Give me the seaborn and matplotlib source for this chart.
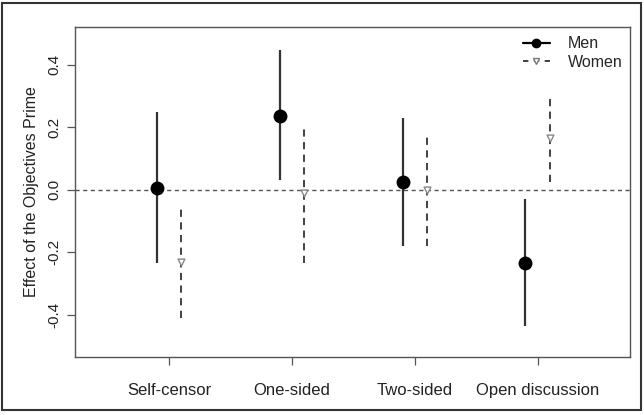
import matplotlib
matplotlib.use("Agg")
import matplotlib.pyplot as plt
from matplotlib.lines import Line2D
from matplotlib.patches import Rectangle
import seaborn as sns
import pandas as pd
import numpy as np

categories = ["Self-censor", "One-sided", "Two-sided", "Open discussion"]
men_est = [0.005, 0.235, 0.025, -0.235]
men_lo = [-0.235, 0.03, -0.18, -0.435]
men_hi = [0.25, 0.445, 0.23, -0.03]
women_est = [-0.23, -0.01, 0.0, 0.165]
women_lo = [-0.41, -0.235, -0.18, 0.025]
women_hi = [-0.055, 0.205, 0.18, 0.305]
y_ticks = [-0.4, -0.2, 0.0, 0.2, 0.4]

sns.set_theme(style="white")
plt.rcParams["font.family"] = ["Liberation Sans", "DejaVu Sans"]

fig = plt.figure(figsize=(6.44, 4.15), dpi=100)
ax = fig.add_axes([75 / 644, 1 - 357 / 415, (630 - 75) / 644, (357 - 27) / 415])

pos = np.arange(1, len(categories) + 1)
df = pd.DataFrame({
    "x": np.concatenate([pos - 0.1, pos + 0.1]),
    "est": men_est + women_est,
    "lo": men_lo + women_lo,
    "hi": men_hi + women_hi,
    "group": ["Men"] * 4 + ["Women"] * 4,
})

ax.axhline(0, color="#555555", lw=1.0, ls=(0, (3, 2.5)), zorder=1)

men = df[df.group == "Men"]
women = df[df.group == "Women"]
ax.vlines(men.x, men.lo, men.hi, color="#333333", lw=1.6, zorder=2)
ax.vlines(women.x, women.lo, women.hi, color="#333333", lw=1.3,
          linestyles=[(0, (4, 3))], zorder=2)

sns.scatterplot(data=men, x="x", y="est", ax=ax, color="black", s=100,
                marker="o", edgecolor="black", linewidth=0, zorder=3, legend=False)
sns.scatterplot(data=women, x="x", y="est", ax=ax, color="white", s=24,
                marker="v", edgecolor="#888888", linewidth=1.0, zorder=3, legend=False)

ax.set_xlim(0.236, 4.75)
ax.set_ylim(-0.534, 0.52)
ax.set_xticks(pos)
ax.set_xticklabels(categories, fontsize=12, color="#222222")
ax.set_yticks(y_ticks)
ax.set_yticklabels([f"{v:.1f}" for v in y_ticks], rotation=90, va="center",
                   fontsize=11, color="#222222")
ax.tick_params(axis="x", length=6, width=0.9, color="#555555", pad=13, bottom=True)
ax.tick_params(axis="y", length=6, width=0.9, color="#555555", pad=4, left=True)
ax.set_xlabel("")
ax.set_ylabel("Effect of the Objectives Prime", fontsize=11.5, color="#222222", labelpad=6)
for s in ax.spines.values():
    s.set_color("#555555")
    s.set_linewidth(1.0)

handles = [
    Line2D([0], [0], color="black", lw=1.6, marker="o", markersize=6,
           markerfacecolor="black", markeredgecolor="black"),
    Line2D([0], [0], color="#333333", lw=1.3, ls=(0, (3, 3)), marker="v",
           markersize=5, markerfacecolor="white", markeredgecolor="#777777"),
]
ax.legend(handles, ["Men", "Women"], loc="upper right", frameon=False,
          fontsize=11.5, handlelength=1.7, handletextpad=1.1,
          bbox_to_anchor=(1.012, 1.015), borderaxespad=0.5, labelspacing=0.2)

fig.add_artist(Rectangle((2 / 644, 5 / 415), 639 / 644, 407 / 415,
                         transform=fig.transFigure, fill=False,
                         edgecolor="#333333", lw=1.5))

fig.savefig("out.png", dpi=100)
